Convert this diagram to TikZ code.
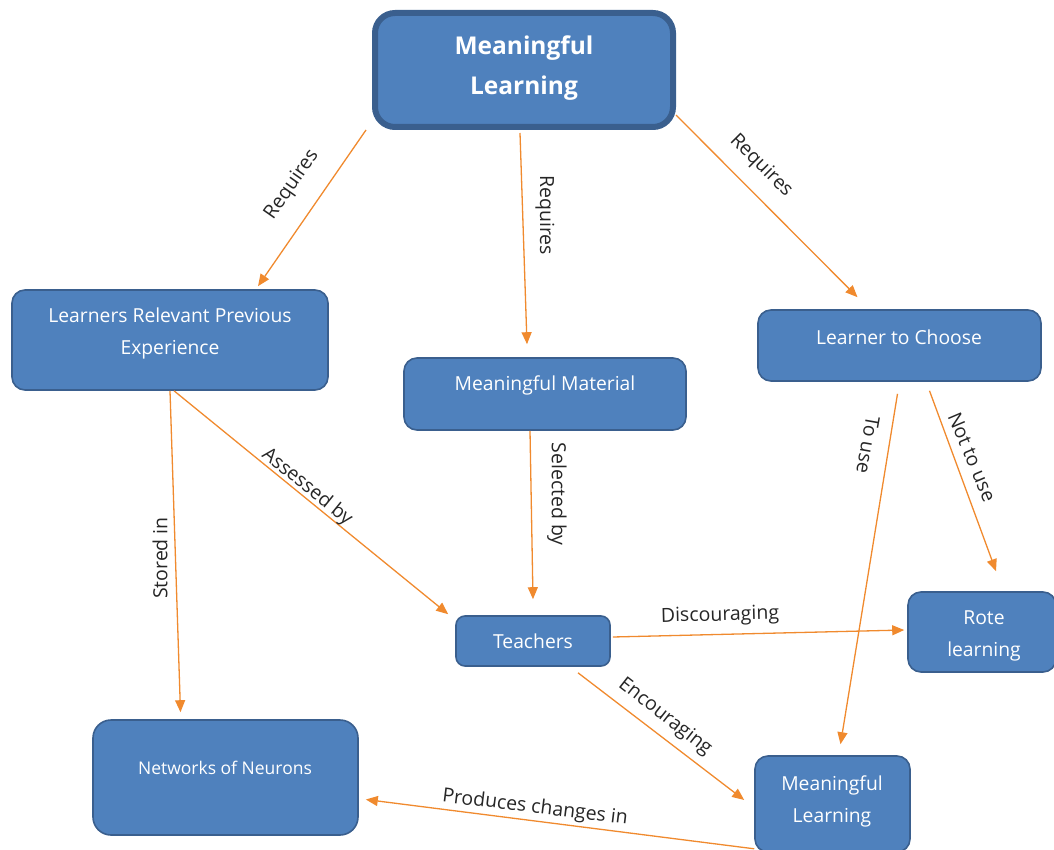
\documentclass[tikz,border=0pt]{standalone}
\usepackage{fontspec}
\setmainfont{Open Sans}
\usetikzlibrary{arrows.meta,calc}
\definecolor{boxfill}{HTML}{4F81BD}
\definecolor{boxline}{HTML}{3A5F8E}
\definecolor{arr}{HTML}{F08A2E}
\definecolor{lbl}{HTML}{262626}
\tikzset{
  box/.style={draw=boxline,fill=boxfill,line width=1.6pt,rounded corners=13pt,inner sep=0pt},
  topbox/.style={box,line width=6pt,rounded corners=20pt},
  btext/.style={text=white,font=\fontsize{19.3}{32}\selectfont,align=center,inner sep=0pt},
  lab/.style={text=lbl,font=\fontsize{19.5}{22}\selectfont,inner sep=0pt},
  conn/.style={draw=arr,line width=1.3pt,-{Triangle[length=12pt,width=10pt]}},
}
\begin{document}
\begin{tikzpicture}[x=1pt,y=-1pt]
\useasboundingbox (0,0) rectangle (1054,850);
% boxes
\node[topbox,minimum width=298pt,minimum height=114pt] (top) at (524,70) {};
\node[box,minimum width=316pt,minimum height=100pt] (lrpe) at (170,340) {};
\node[box,minimum width=282pt,minimum height=72pt] (mm) at (545,394) {};
\node[box,minimum width=283pt,minimum height=71pt] (ltc) at (899.5,345.5) {};
\node[box,minimum width=154pt,minimum height=50pt,rounded corners=9pt] (teach) at (533,641) {};
\node[box,minimum width=148pt,minimum height=80pt] (rote) at (982,632) {};
\node[box,minimum width=265pt,minimum height=115pt,rounded corners=18pt] (non) at (225.5,777.5) {};
\node[box,minimum width=155pt,minimum height=96pt] (mlb) at (832.5,804) {};
% box texts
\node[btext,font=\bfseries\fontsize{24.5}{40}\selectfont] (topt) at (524,68) {Meaningful\\Learning};
\node[btext] (lrpet) at (170,333) {Learners Relevant Previous\\Experience};
\node[btext] (mmt) at (545,385) {Meaningful Material};
\node[btext] (ltct) at (899,337) {Learner to Choose};
\node[btext] (teacht) at (533,641) {Teachers};
\node[btext] (rotet) at (984,636) {Rote\\learning};
\node[btext,font=\fontsize{17.5}{20}\selectfont] (nont) at (225,768) {Networks of Neurons};
\node[btext] (mlbt) at (832,801) {Meaningful\\Learning};
% connectors
\draw[conn] ($(top.south west)+(-6,0)$) -- ($(lrpe.north)+(88,-3)$);
\draw[conn] ($(top.south)+(-4,3)$) -- ($(mm.north)+(-18,-13)$);
\draw[conn] ($(top.south east)+(0,-15)$) -- ($(ltc.north)+(-42,-12)$);
\draw[conn] ($(lrpe.south)+(0,0)$) -- ($(non.north)+(-45,-7)$);
\draw[conn] ($(lrpe.south)+(4,0)$) -- ($(teach.north west)+(-7,-1)$);
\draw[conn] ($(mm.south)+(-15,0)$) -- ($(teach.north)+(0,-16)$);
\draw[conn] ($(ltc.south)+(-2,12)$) -- ($(mlb.north)+(8,-11)$);
\draw[conn] ($(ltc.south)+(30,9)$) -- ($(rote.north)+(14,-20)$);
\draw[conn] ($(teach.east)+(2,-4)$) -- ($(rote.west)+(-3,-2)$);
\draw[conn] ($(teach.south)+(45,6)$) -- ($(mlb.west)+(-10,-4)$);
\draw[conn] ($(mlb.south west)+(0,-4)$) -- ($(non.east)+(7,22)$);
% labels
\node[lab,rotate=55] (l1) at (292,185) {Requires};
\node[lab,rotate=-90] (l2) at (545,215) {Requires};
\node[lab,rotate=-45] (l3) at (761,166) {Requires};
\node[lab,rotate=90] (l4) at (160,558) {Stored in};
\node[lab,rotate=-39] (l5) at (307,487) {Assessed by};
\node[lab,rotate=-90] (l6) at (557,494) {Selected by};
\node[lab,rotate=-100] (l7) at (868,445) {To use};
\node[lab,rotate=-67] (l8) at (972,457) {Not to use};
\node[lab,rotate=1.5] (l9) at (720,616) {Discouraging};
\node[lab,rotate=-38] (l10) at (665,717) {Encouraging};
\node[lab,rotate=-7] (l11) at (535,808) {Produces changes in};
\end{tikzpicture}
\end{document}
